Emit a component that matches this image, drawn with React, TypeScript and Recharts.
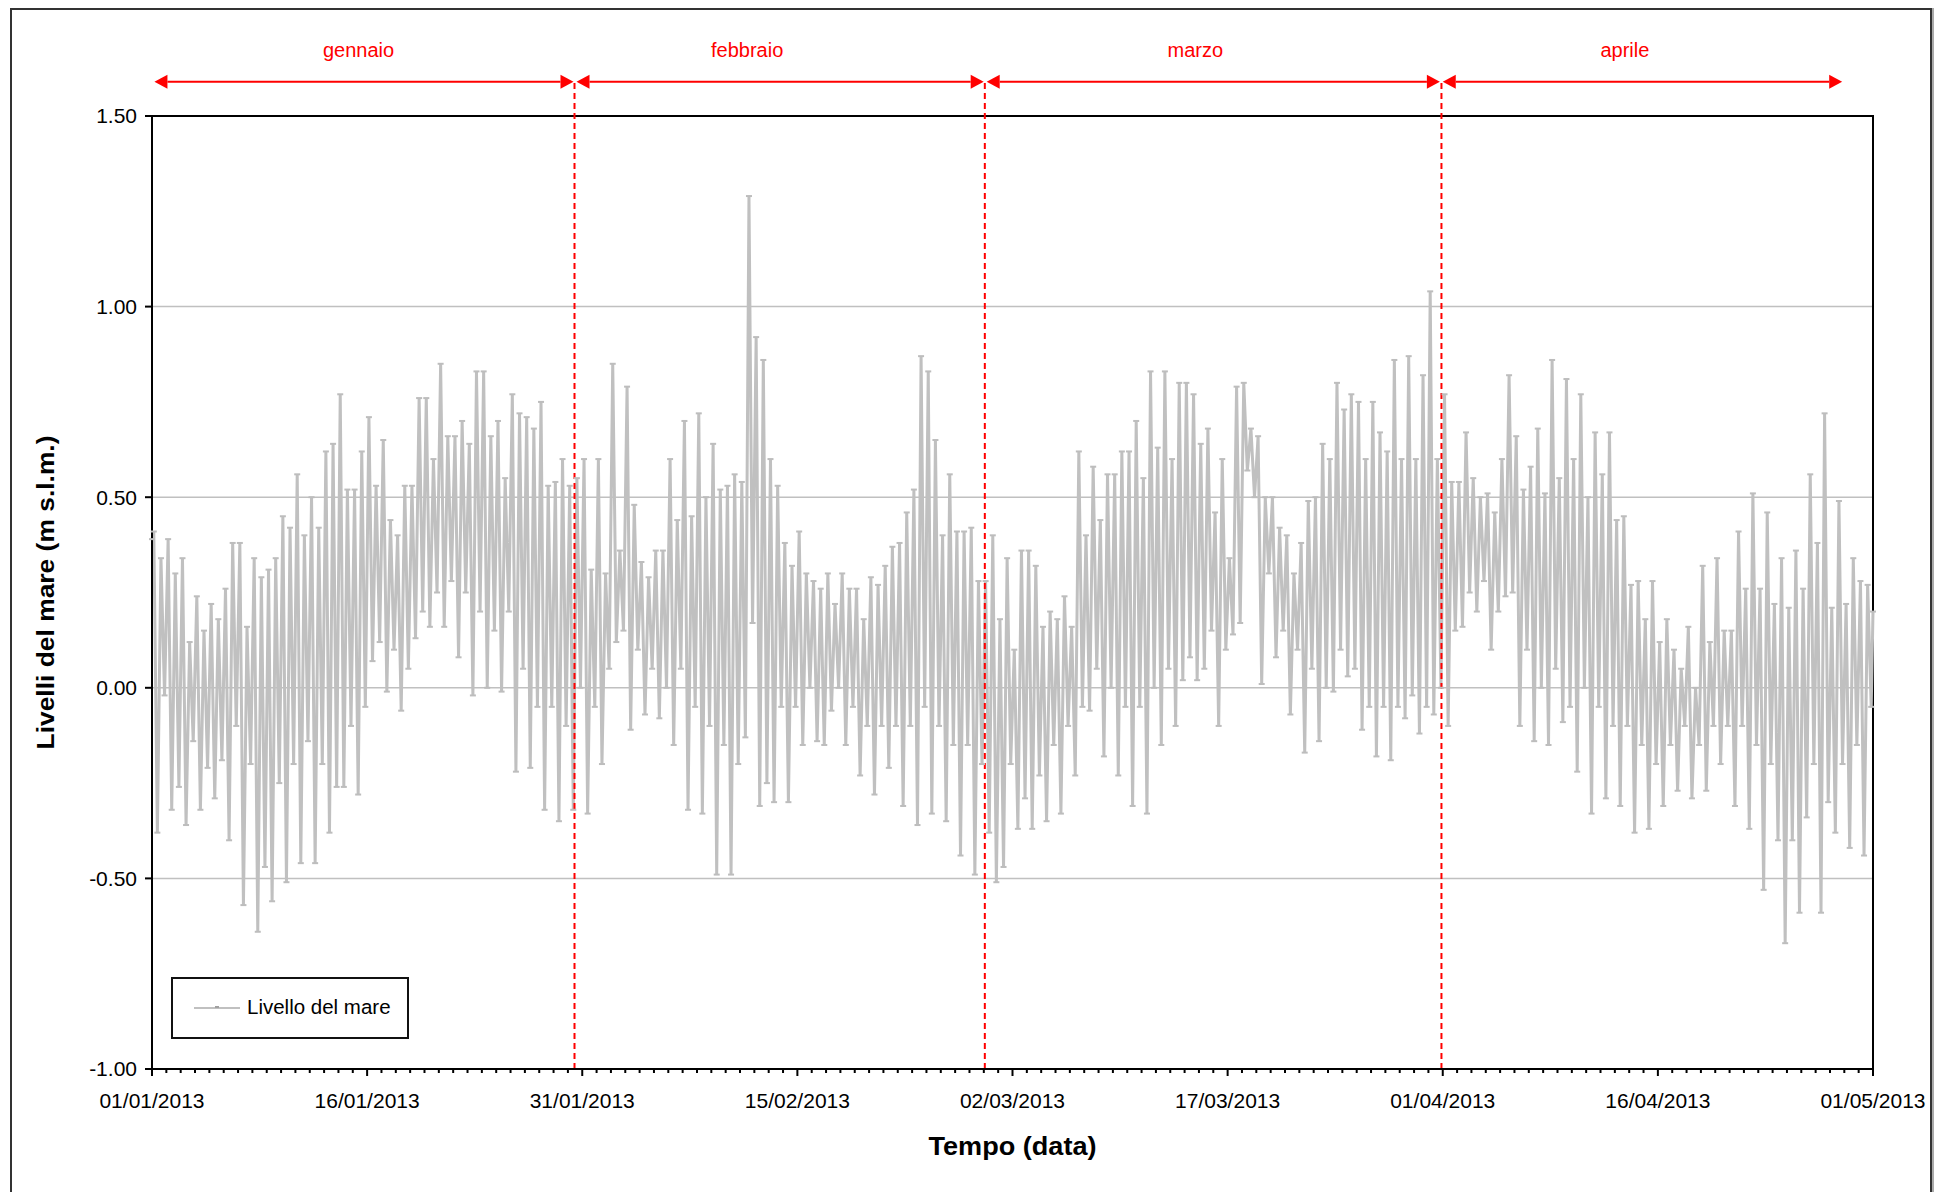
import {
  LineChart,
  Line,
  XAxis,
  YAxis,
  CartesianGrid,
  Legend,
  ReferenceLine,
  ReferenceArea,
  ReferenceDot,
} from 'recharts';

// Tidal extremes, one row per day: [high, low, high, low] (m s.l.m.)
const gennaio = [
  [0.41, -0.38, 0.34, -0.02], [0.39, -0.32, 0.30, -0.26], [0.34, -0.36, 0.12, -0.14],
  [0.24, -0.32, 0.15, -0.21], [0.22, -0.29, 0.18, -0.19], [0.26, -0.40, 0.38, -0.10],
  [0.38, -0.57, 0.16, -0.20], [0.34, -0.64, 0.29, -0.47], [0.31, -0.56, 0.34, -0.25],
  [0.45, -0.51, 0.42, -0.20], [0.56, -0.46, 0.40, -0.14], [0.50, -0.46, 0.42, -0.20],
  [0.62, -0.38, 0.64, -0.26], [0.77, -0.26, 0.52, -0.10], [0.52, -0.28, 0.62, -0.05],
  [0.71, 0.07, 0.53, 0.12], [0.65, -0.01, 0.44, 0.10], [0.40, -0.06, 0.53, 0.05],
  [0.53, 0.13, 0.76, 0.20], [0.76, 0.16, 0.60, 0.25], [0.85, 0.16, 0.66, 0.28],
  [0.66, 0.08, 0.70, 0.25], [0.64, -0.02, 0.83, 0.20], [0.83, 0.00, 0.66, 0.15],
  [0.70, -0.01, 0.55, 0.20], [0.77, -0.22, 0.72, 0.05], [0.71, -0.21, 0.68, -0.05],
  [0.75, -0.32, 0.53, -0.05], [0.54, -0.35, 0.60, -0.10], [0.53, -0.32, 0.55, 0.00],
  [0.60, -0.33, 0.31, -0.05],
];
const febbraio = [
  [0.60, -0.20, 0.30, 0.05], [0.85, 0.12, 0.36, 0.15], [0.79, -0.11, 0.48, 0.10],
  [0.33, -0.07, 0.29, 0.05], [0.36, -0.08, 0.36, 0.00], [0.60, -0.15, 0.44, 0.05],
  [0.70, -0.32, 0.45, -0.05], [0.72, -0.33, 0.50, -0.10], [0.64, -0.49, 0.52, -0.15],
  [0.53, -0.49, 0.56, -0.20], [0.54, -0.13, 1.29, 0.17], [0.92, -0.31, 0.86, -0.25],
  [0.60, -0.30, 0.53, -0.05], [0.38, -0.30, 0.32, -0.05], [0.41, -0.15, 0.30, 0.00],
  [0.28, -0.14, 0.26, -0.15], [0.30, -0.06, 0.22, 0.00], [0.30, -0.15, 0.26, -0.05],
  [0.26, -0.23, 0.18, -0.10], [0.29, -0.28, 0.27, -0.10], [0.32, -0.21, 0.37, -0.10],
  [0.38, -0.31, 0.46, -0.10], [0.52, -0.36, 0.87, -0.05], [0.83, -0.33, 0.65, -0.10],
  [0.40, -0.35, 0.56, -0.15], [0.41, -0.44, 0.41, -0.15], [0.42, -0.49, 0.28, -0.20],
  [0.28, -0.38, 0.40, -0.51],
];
const marzo = [
  [0.18, -0.47, 0.34, -0.20], [0.10, -0.37, 0.36, -0.29], [0.36, -0.37, 0.32, -0.23],
  [0.16, -0.35, 0.20, -0.15], [0.18, -0.33, 0.24, -0.10], [0.16, -0.23, 0.62, -0.05],
  [0.40, -0.06, 0.58, 0.05], [0.44, -0.18, 0.56, 0.00], [0.56, -0.23, 0.62, -0.05],
  [0.62, -0.31, 0.70, -0.05], [0.55, -0.33, 0.83, 0.00], [0.63, -0.15, 0.83, 0.05],
  [0.60, -0.10, 0.80, 0.02], [0.80, 0.08, 0.77, 0.02], [0.64, 0.05, 0.68, 0.15],
  [0.46, -0.10, 0.60, 0.10], [0.34, 0.14, 0.79, 0.17], [0.80, 0.57, 0.68, 0.50],
  [0.66, 0.01, 0.50, 0.30], [0.50, 0.08, 0.42, 0.15], [0.40, -0.07, 0.30, 0.10],
  [0.38, -0.17, 0.49, 0.05], [0.50, -0.14, 0.64, 0.00], [0.60, -0.01, 0.80, 0.10],
  [0.73, 0.03, 0.77, 0.05], [0.75, -0.11, 0.60, -0.05], [0.75, -0.18, 0.67, -0.05],
  [0.62, -0.19, 0.86, -0.05], [0.60, -0.08, 0.87, -0.02], [0.60, -0.12, 0.82, -0.05],
  [1.04, -0.07, 0.60, 0.00],
];
const aprile = [
  [0.77, -0.10, 0.54, 0.15], [0.54, 0.16, 0.67, 0.25], [0.55, 0.20, 0.50, 0.28],
  [0.51, 0.10, 0.46, 0.20], [0.60, 0.24, 0.82, 0.25], [0.66, -0.10, 0.52, 0.10],
  [0.58, -0.14, 0.68, 0.00], [0.51, -0.15, 0.86, 0.05], [0.55, -0.09, 0.81, -0.05],
  [0.60, -0.22, 0.77, 0.00], [0.50, -0.33, 0.67, -0.05], [0.56, -0.29, 0.67, -0.10],
  [0.44, -0.31, 0.45, -0.10], [0.27, -0.38, 0.28, -0.15], [0.18, -0.37, 0.28, -0.20],
  [0.12, -0.31, 0.18, -0.15], [0.10, -0.27, 0.05, -0.10], [0.16, -0.29, 0.00, -0.15],
  [0.32, -0.27, 0.12, -0.10], [0.34, -0.20, 0.15, -0.10], [0.15, -0.31, 0.41, -0.10],
  [0.26, -0.37, 0.51, -0.15], [0.26, -0.53, 0.46, -0.20], [0.22, -0.40, 0.34, -0.67],
  [0.21, -0.40, 0.36, -0.59], [0.26, -0.34, 0.56, -0.20], [0.38, -0.59, 0.72, -0.30],
  [0.21, -0.38, 0.49, -0.20], [0.22, -0.42, 0.34, -0.15], [0.28, -0.44, 0.27, -0.05],
];
const firstLevel = 0.39;
const lastLevel = 0.20;

const majorDays = [0, 15, 30, 45, 60, 75, 90, 105, 120];
const dateLabels = [
  '01/01/2013', '16/01/2013', '31/01/2013', '15/02/2013', '02/03/2013',
  '17/03/2013', '01/04/2013', '16/04/2013', '01/05/2013',
];
const yTicks = [-1, -0.5, 0, 0.5, 1, 1.5];

// hand drawn month annotations (in day / level units)
const monthNames = ['gennaio', 'febbraio', 'marzo', 'aprile'];
const monthLabelDays = [14.4, 41.5, 72.75, 102.7];
const arrowSpans = [[0.17, 29.39], [29.6, 57.99], [58.2, 89.8], [90.0, 117.85]];
const monthBounds = [29.46, 58.07, 89.91];
const arrowLevel = 1.59;
const labelLevel = 1.673;

const FONT = '"Liberation Sans", Arial, Helvetica, sans-serif';
const RED = '#ff0000';

const allDays = [...gennaio, ...febbraio, ...marzo, ...aprile];
const data = [{ t: 0, v: firstLevel }];
allDays.forEach((row, d) => {
  row.forEach((v, k) => data.push({ t: d + 0.125 + k * 0.25, v }));
});
data.push({ t: allDays.length, v: lastLevel });
const dayTicks = Array.from({ length: allDays.length + 1 }, (_, i) => i);

function DayTick(props: any) {
  const { x, y, payload } = props;
  const idx = majorDays.indexOf(payload.value);
  const major = idx >= 0;
  return (
    <g>
      <line x1={x} x2={x} y1={y} y2={y + (major ? 7 : 4)} stroke="#000" strokeWidth={2} />
      {major && (
        <text x={x} y={y + 31} textAnchor="middle" dominantBaseline="central" fontSize={21} fill="#000">
          {dateLabels[idx]}
        </text>
      )}
    </g>
  );
}

function YTitle(props: any) {
  const { viewBox } = props;
  const cx = viewBox.x - 15;
  const cy = viewBox.y + viewBox.height / 2;
  return (
    <text
      x={cx}
      y={cy}
      transform={`rotate(-90 ${cx} ${cy})`}
      textAnchor="middle"
      dominantBaseline="central"
      fontSize={24}
      fontWeight="bold"
      fill="#000"
      textLength={314}
      lengthAdjust="spacingAndGlyphs"
    >
      Livelli del mare (m s.l.m.)
    </text>
  );
}

function XTitle(props: any) {
  const { viewBox } = props;
  return (
    <text
      x={viewBox.x + viewBox.width / 2}
      y={viewBox.y + 77}
      textAnchor="middle"
      dominantBaseline="central"
      fontSize={25}
      fontWeight="bold"
      fill="#000"
      textLength={168}
      lengthAdjust="spacingAndGlyphs"
    >
      Tempo (data)
    </text>
  );
}

function Arrow(props: any) {
  const { x1, y1, x2, y2 } = props;
  const len = 13;
  const half = 7;
  return (
    <g>
      <line x1={x1 + len} y1={y1} x2={x2 - len} y2={y2} stroke={RED} strokeWidth={2} />
      <polygon points={`${x1},${y1} ${x1 + len},${y1 - half} ${x1 + len},${y1 + half}`} fill={RED} />
      <polygon points={`${x2},${y2} ${x2 - len},${y2 - half} ${x2 - len},${y2 + half}`} fill={RED} />
    </g>
  );
}

function LegendBox() {
  return (
    <div
      style={{
        boxSizing: 'border-box',
        width: 238,
        height: 62,
        border: '2px solid #111',
        background: '#fff',
        position: 'relative',
        fontFamily: FONT,
      }}
    >
      <svg width={50} height={10} style={{ position: 'absolute', left: 19, top: 24 }}>
        <line x1={2} x2={48} y1={5} y2={5} stroke="#c0c0c0" strokeWidth={2} />
        <rect x={23} y={3} width={4} height={2} fill="#a0a0a0" />
      </svg>
      <span style={{ position: 'absolute', left: 74, top: 16, fontSize: 20.5, color: '#000', lineHeight: '24px' }}>
        Livello del mare
      </span>
    </div>
  );
}

export default function App() {
  return (
    <div
      style={{
        position: 'absolute',
        left: 0,
        top: 0,
        width: 1943,
        height: 1192,
        overflow: 'hidden',
        background: '#fff',
        fontFamily: FONT,
      }}
    >
      <div
        style={{
          position: 'absolute',
          left: 10,
          top: 8,
          width: 1918,
          height: 1260,
          border: '2px solid #333',
          boxShadow: '2px 0 0 #aaa',
        }}
      />
      <div style={{ position: 'absolute', left: 0, top: 0 }}>
        <LineChart
          width={1943}
          height={1192}
          data={data}
          margin={{ top: 116, right: 70, bottom: 33, left: 60 }}
        >
          <CartesianGrid vertical={false} stroke="#c0c0c0" strokeWidth={1.5} />
          <XAxis
            dataKey="t"
            type="number"
            domain={[0, 120]}
            ticks={dayTicks}
            interval={0}
            height={90}
            tickSize={0}
            tickMargin={0}
            tickLine={false}
            axisLine={{ stroke: '#000', strokeWidth: 2 }}
            tick={<DayTick />}
            label={<XTitle />}
          />
          <YAxis
            type="number"
            domain={[-1, 1.5]}
            ticks={yTicks}
            interval={0}
            width={92}
            tickSize={7}
            tickMargin={8}
            tickFormatter={(v: number) => v.toFixed(2)}
            tick={{ fontSize: 21, fill: '#000' }}
            tickLine={{ stroke: '#000', strokeWidth: 2 }}
            axisLine={{ stroke: '#000', strokeWidth: 2 }}
            label={<YTitle />}
          />
          <ReferenceArea
            x1={0}
            x2={120}
            y1={-1}
            y2={1.5}
            fill="none"
            stroke="#000"
            strokeWidth={2}
            ifOverflow="visible"
          />
          <Line
            type="linear"
            dataKey="v"
            name="Livello del mare"
            stroke="#c0c0c0"
            strokeWidth={3}
            strokeLinejoin="miter"
            dot={(p: any) => (
              <rect key={`d${p.index}`} x={p.cx - 3} y={p.cy - 1} width={6} height={2} fill="#bdbdbd" />
            )}
            activeDot={false}
            isAnimationActive={false}
          />
          {monthBounds.map((b) => (
            <ReferenceLine
              key={`b${b}`}
              segment={[{ x: b, y: -1 }, { x: b, y: arrowLevel }]}
              stroke={RED}
              strokeWidth={2}
              strokeDasharray="6 4"
              ifOverflow="visible"
            />
          ))}
          {arrowSpans.map(([a, b]) => (
            <ReferenceLine
              key={`a${a}`}
              segment={[{ x: a, y: arrowLevel }, { x: b, y: arrowLevel }]}
              ifOverflow="visible"
              shape={<Arrow />}
            />
          ))}
          {monthNames.map((m, i) => (
            <ReferenceDot
              key={m}
              x={monthLabelDays[i]}
              y={labelLevel}
              r={0}
              stroke="none"
              fill="none"
              ifOverflow="visible"
              label={{ value: m, position: 'center', fill: RED, fontSize: 20 }}
            />
          ))}
          <Legend
            layout="horizontal"
            verticalAlign="middle"
            align="center"
            wrapperStyle={{ left: 171, top: 977, width: 238, height: 62 }}
            content={() => <LegendBox />}
          />
        </LineChart>
      </div>
    </div>
  );
}
